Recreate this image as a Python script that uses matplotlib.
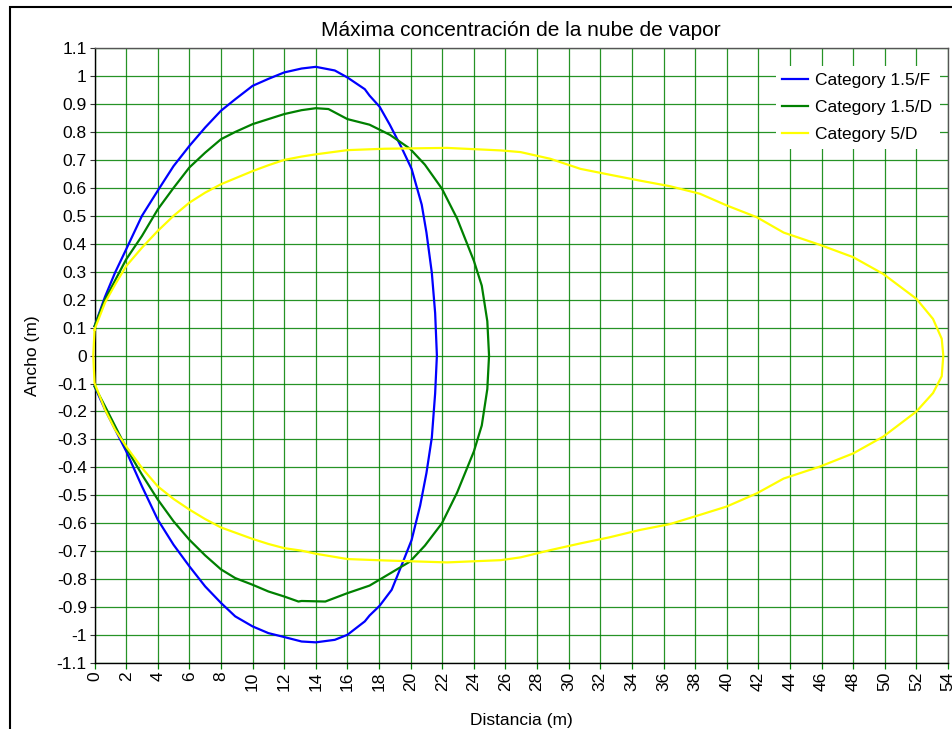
import matplotlib
matplotlib.use("Agg")
import matplotlib.pyplot as plt

plt.rcParams["font.family"] = ["Liberation Sans", "DejaVu Sans"]
plt.rcParams["axes.unicode_minus"] = False

# ------------------ DATOS ------------------
categorias = ["Category 1.5/F", "Category 1.5/D", "Category 5/D"]
colores = ["#0000ff", "#008000", "#ffff00"]

# Category 1.5/F (contorno: arriba de izquierda a derecha, abajo de vuelta)
x_15F = [0, 0.66, 1.3, 2, 3, 4, 5, 6, 7, 8, 8.9, 10, 11, 12, 13.1, 14, 15.2, 16,
         17.1, 17.4, 18.04, 18.68, 19.4, 20.06, 20.7, 21.0, 21.34, 21.55, 21.66,
         21.55, 21.34, 21.0, 20.6, 20.06, 19.43, 18.8, 18.04, 17.4, 17.1, 16,
         15.2, 14, 13.1, 12, 11, 10, 8.9, 8, 7, 6, 5, 4, 3, 2, 0.66, 0]
y_15F = [0.105, 0.21, 0.297, 0.38, 0.5, 0.59, 0.678, 0.75, 0.816, 0.876, 0.917,
         0.965, 0.99, 1.013, 1.027, 1.033, 1.02, 0.995, 0.953, 0.93, 0.89, 0.826,
         0.747, 0.668, 0.54, 0.44, 0.296, 0.152, 0.0,
         -0.135, -0.293, -0.42, -0.537, -0.66, -0.75, -0.838, -0.895, -0.93,
         -0.951, -0.999, -1.017, -1.026, -1.023, -1.007, -0.993, -0.969, -0.933,
         -0.885, -0.826, -0.754, -0.677, -0.587, -0.468, -0.342, -0.193, -0.11]

# Category 1.5/D
x_15D = [0, 0.66, 2, 3, 4, 5, 6, 7, 8, 8.9, 10, 11, 12, 13.1, 14, 14.8, 16,
         17.4, 18.68, 19.96, 20.9, 21.98, 22.94, 24.0, 24.5, 24.85, 24.96,
         24.85, 24.5, 24.0, 22.94, 21.98, 20.9, 19.96, 18.68, 17.4, 16, 15.3,
         14.6, 13.1, 12.9, 12, 11, 10, 8.9, 8, 7, 6, 5, 4, 3, 2, 0.66, 0]
y_15D = [0.105, 0.2, 0.344, 0.428, 0.523, 0.6, 0.673, 0.726, 0.774, 0.8, 0.828,
         0.846, 0.864, 0.878, 0.885, 0.882, 0.846, 0.826, 0.79, 0.74, 0.683,
         0.597, 0.49, 0.339, 0.25, 0.123, 0.0,
         -0.12, -0.25, -0.343, -0.49, -0.6, -0.68, -0.737, -0.78, -0.823, -0.85,
         -0.865, -0.88, -0.878, -0.88, -0.862, -0.844, -0.82, -0.796, -0.765,
         -0.715, -0.659, -0.593, -0.515, -0.426, -0.33, -0.181, -0.11]

# Category 5/D
x_5D = [0, 0.66, 1.3, 2, 3, 4, 5, 6, 7, 8, 10, 11, 12, 13.1, 14, 16, 18.35,
        22.3, 25.7, 26.95, 28.84, 30.74, 32.6, 34.5, 36.4, 38.3, 40.0, 41.9,
        43.6, 45.9, 48.0, 49.9, 52.0, 53.05, 53.6, 53.7,
        53.6, 53.05, 52.0, 49.9, 48.0, 45.9, 43.6, 41.9, 40.0, 38.3, 36.4, 34.5,
        32.6, 30.74, 28.84, 26.95, 25.7, 22.3, 18.35, 16, 14, 13.1, 12, 11, 10,
        8, 7, 6, 5, 4, 3, 2, 1.3, 0.66, 0, -0.08, 0]
y_5D = [0.093, 0.189, 0.254, 0.32, 0.386, 0.446, 0.5, 0.547, 0.583, 0.613, 0.66,
        0.681, 0.7, 0.712, 0.72, 0.735, 0.74, 0.743, 0.734, 0.728, 0.704, 0.668,
        0.647, 0.626, 0.606, 0.579, 0.537, 0.495, 0.44, 0.396, 0.352, 0.292,
        0.203, 0.131, 0.06, 0.0,
        -0.074, -0.134, -0.2, -0.29, -0.35, -0.397, -0.44, -0.493, -0.54, -0.57,
        -0.603, -0.624, -0.65, -0.672, -0.696, -0.722, -0.732, -0.74, -0.733,
        -0.728, -0.709, -0.698, -0.689, -0.674, -0.656, -0.615, -0.585, -0.551,
        -0.513, -0.468, -0.402, -0.325, -0.265, -0.193, -0.098, 0.0, 0.093]

x_ticks = list(range(0, 55, 2))
y_ticks = [1.1, 1.0, 0.9, 0.8, 0.7, 0.6, 0.5, 0.4, 0.3, 0.2, 0.1, 0.0,
           -0.1, -0.2, -0.3, -0.4, -0.5, -0.6, -0.7, -0.8, -0.9, -1.0, -1.1]
y_labels = ["1.1", "1", "0.9", "0.8", "0.7", "0.6", "0.5", "0.4", "0.3", "0.2",
            "0.1", "0", "-0.1", "-0.2", "-0.3", "-0.4", "-0.5", "-0.6", "-0.7",
            "-0.8", "-0.9", "-1", "-1.1"]

# ------------------ GRAFICO ------------------
fig = plt.figure(figsize=(9.53, 7.29), dpi=100, facecolor="white")
ax = fig.add_axes([0.0992, 0.0905, 0.8956, 0.8435])

series = [(x_15F, y_15F), (x_15D, y_15D), (x_5D, y_5D)]
for (xs, ys), nombre, color in zip(series, categorias, colores):
    ax.plot(xs, ys, color=color, linewidth=1.6, label=nombre,
            solid_joinstyle="round", clip_on=False, zorder=3)

ax.set_xlim(0, 54)
ax.set_ylim(-1.1, 1.1)
ax.set_xticks(x_ticks)
ax.set_xticklabels([str(v) for v in x_ticks], rotation=90, fontsize=12.5)
ax.set_yticks(y_ticks)
ax.set_yticklabels(y_labels, fontsize=12.5)

ax.grid(True, color="#008000", linewidth=0.9, alpha=0.85, zorder=0)
ax.set_axisbelow(True)
ax.tick_params(axis="x", length=4.5, width=0.9, color="#008000", pad=1.5)
ax.tick_params(axis="y", length=3.6, width=0.8, color="#333333", pad=2)

for lado in ["left", "bottom"]:
    ax.spines[lado].set_color("black")
    ax.spines[lado].set_linewidth(1.0)
for lado in ["top", "right"]:
    ax.spines[lado].set_color("#555555")
    ax.spines[lado].set_linewidth(1.0)

ax.set_title("Máxima concentración de la nube de vapor", fontsize=15, pad=9)
ax.set_xlabel("Distancia (m)", fontsize=12.5, labelpad=16)
ax.set_ylabel("Ancho (m)", fontsize=12.5, labelpad=12)

leg = ax.legend(loc="upper right", bbox_to_anchor=(0.99, 0.9715),
                borderaxespad=0, fontsize=12.5, frameon=True, fancybox=False,
                handlelength=1.5, handletextpad=0.4, labelspacing=0.7)
leg.get_frame().set_edgecolor("none")
leg.get_frame().set_facecolor("white")
leg.get_frame().set_alpha(1)

# marco exterior (solo se ven el borde izquierdo y el superior)
marco = plt.Rectangle((0.011, -0.5), 2, 1.491, transform=fig.transFigure,
                      fill=False, edgecolor="black", linewidth=1.5)
fig.add_artist(marco)

fig.savefig("out.png", dpi=100, facecolor="white")
